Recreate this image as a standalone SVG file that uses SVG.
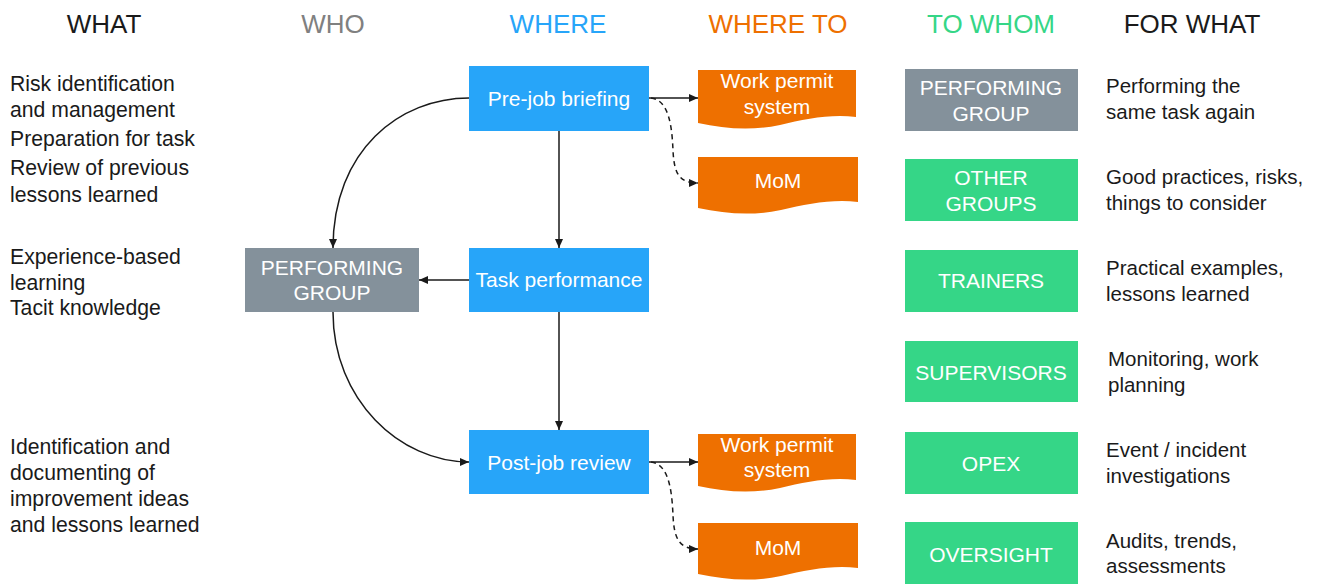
<svg xmlns="http://www.w3.org/2000/svg" width="1322" height="586" viewBox="0 0 1322 586">
<defs>
<style>
text{font-family:"Liberation Sans",Arial,sans-serif;}
.hd{font-size:26px;text-anchor:middle;}
.tx{font-size:20.5px;fill:#1a1a1a;}
.tl{font-size:21.2px;}
.lb{font-size:21px;fill:#ffffff;text-anchor:middle;}
.blue{fill:#27A5F9;}
.gray{fill:#84919B;}
.green{fill:#35D687;}
.orange{fill:#EE7000;}
.ln{fill:none;stroke:#1a1a1a;stroke-width:1.5;marker-end:url(#ah);}
.dash{stroke-dasharray:5,4;}
</style>
<marker id="ah" markerUnits="userSpaceOnUse" markerWidth="10" markerHeight="10" refX="9" refY="5" orient="auto">
<path d="M0,1 L9,5 L0,9 Z" fill="#1a1a1a"/>
</marker>
</defs>
<rect width="1322" height="586" fill="#ffffff"/>

<g id="headers">
<text class="hd" x="104" y="33" fill="#1a1a1a">WHAT</text>
<text class="hd" x="333" y="33" fill="#808080">WHO</text>
<text class="hd" x="558" y="33" fill="#27A5F9">WHERE</text>
<text class="hd" x="778" y="33" fill="#EE7000">WHERE TO</text>
<text class="hd" x="991" y="33" fill="#35D687">TO WHOM</text>
<text class="hd" x="1192" y="33" fill="#1a1a1a">FOR WHAT</text>
</g>

<g id="what-text">
<text class="tx tl" x="10" y="91">Risk identification</text>
<text class="tx tl" x="10" y="117">and management</text>
<text class="tx tl" x="10" y="146">Preparation for task</text>
<text class="tx tl" x="10" y="175">Review of previous</text>
<text class="tx tl" x="10" y="202">lessons learned</text>
<text class="tx tl" x="10" y="264">Experience-based</text>
<text class="tx tl" x="10" y="290">learning</text>
<text class="tx tl" x="10" y="315">Tacit knowledge</text>
<text class="tx tl" x="10" y="454">Identification and</text>
<text class="tx tl" x="10" y="480">documenting of</text>
<text class="tx tl" x="10" y="506">improvement ideas</text>
<text class="tx tl" x="10" y="532">and lessons learned</text>
</g>

<g id="connectors">
<path class="ln" d="M469,98 C400,98 333,150 333,248"/>
<path class="ln" d="M333,312 C333,400 400,462 469,462"/>
<path class="ln" d="M559,131 V248"/>
<path class="ln" d="M559,312 V430"/>
<path class="ln" d="M469,280 H419"/>
<path class="ln" d="M649,98 H698"/>
<path class="ln" d="M649,462 H698"/>
<path class="ln dash" d="M651,98 C670,100 672,130 673,150 C674,175 680,183 698,183"/>
<path class="ln dash" d="M651,462 C670,464 672,495 673,515 C674,540 680,549 698,549"/>
</g>

<g id="pre-job-briefing">
<rect class="blue" x="469" y="66" width="180" height="65"/>
<text class="lb" x="559" y="106">Pre-job briefing</text>
</g>
<g id="task-performance">
<rect class="blue" x="469" y="248" width="180" height="64"/>
<text class="lb" x="559" y="287">Task performance</text>
</g>
<g id="post-job-review">
<rect class="blue" x="469" y="430" width="180" height="64"/>
<text class="lb" x="559" y="470">Post-job review</text>
</g>
<g id="performing-group-who">
<rect class="gray" x="245" y="248" width="174" height="64"/>
<text class="lb" x="332" y="275">PERFORMING</text>
<text class="lb" x="332" y="300">GROUP</text>
</g>

<g id="work-permit-1">
<path class="orange" d="M698,70 H856 V117 C830,114 805,119 780,125 C752,131 725,129 698,123 Z"/>
<text class="lb" x="777" y="88">Work permit</text>
<text class="lb" x="777" y="114">system</text>
</g>
<g id="mom-1">
<path class="orange" d="M698,157 H858 V202 C832,199 807,204 781,210 C753,216 726,214 698,208 Z"/>
<text class="lb" x="778" y="188">MoM</text>
</g>
<g id="work-permit-2">
<path class="orange" d="M698,434 H856 V480 C830,477 805,482 780,488 C752,494 725,492 698,486 Z"/>
<text class="lb" x="777" y="452">Work permit</text>
<text class="lb" x="777" y="477">system</text>
</g>
<g id="mom-2">
<path class="orange" d="M698,523 H858 V568 C832,565 807,570 781,576 C753,582 726,580 698,574 Z"/>
<text class="lb" x="778" y="555">MoM</text>
</g>

<g id="to-performing-group">
<rect class="gray" x="905" y="69" width="173" height="62"/>
<text class="lb" x="991" y="95">PERFORMING</text>
<text class="lb" x="991" y="121">GROUP</text>
</g>
<g id="other-groups">
<rect class="green" x="905" y="159" width="173" height="62"/>
<text class="lb" x="991" y="185">OTHER</text>
<text class="lb" x="991" y="211">GROUPS</text>
</g>
<g id="trainers">
<rect class="green" x="905" y="250" width="173" height="62"/>
<text class="lb" x="991" y="288">TRAINERS</text>
</g>
<g id="supervisors">
<rect class="green" x="905" y="341" width="173" height="61"/>
<text class="lb" x="991" y="380">SUPERVISORS</text>
</g>
<g id="opex">
<rect class="green" x="905" y="432" width="173" height="62"/>
<text class="lb" x="991" y="471">OPEX</text>
</g>
<g id="oversight">
<rect class="green" x="905" y="522" width="173" height="62"/>
<text class="lb" x="991" y="562">OVERSIGHT</text>
</g>

<g id="for-what-text">
<text class="tx" x="1106" y="93">Performing the</text>
<text class="tx" x="1106" y="119">same task again</text>
<text class="tx" x="1106" y="184">Good practices, risks,</text>
<text class="tx" x="1106" y="210">things to consider</text>
<text class="tx" x="1106" y="275">Practical examples,</text>
<text class="tx" x="1106" y="301">lessons learned</text>
<text class="tx" x="1108" y="366">Monitoring, work</text>
<text class="tx" x="1108" y="392">planning</text>
<text class="tx" x="1106" y="457">Event / incident</text>
<text class="tx" x="1106" y="483">investigations</text>
<text class="tx" x="1106" y="548">Audits, trends,</text>
<text class="tx" x="1106" y="573">assessments</text>
</g>
</svg>
